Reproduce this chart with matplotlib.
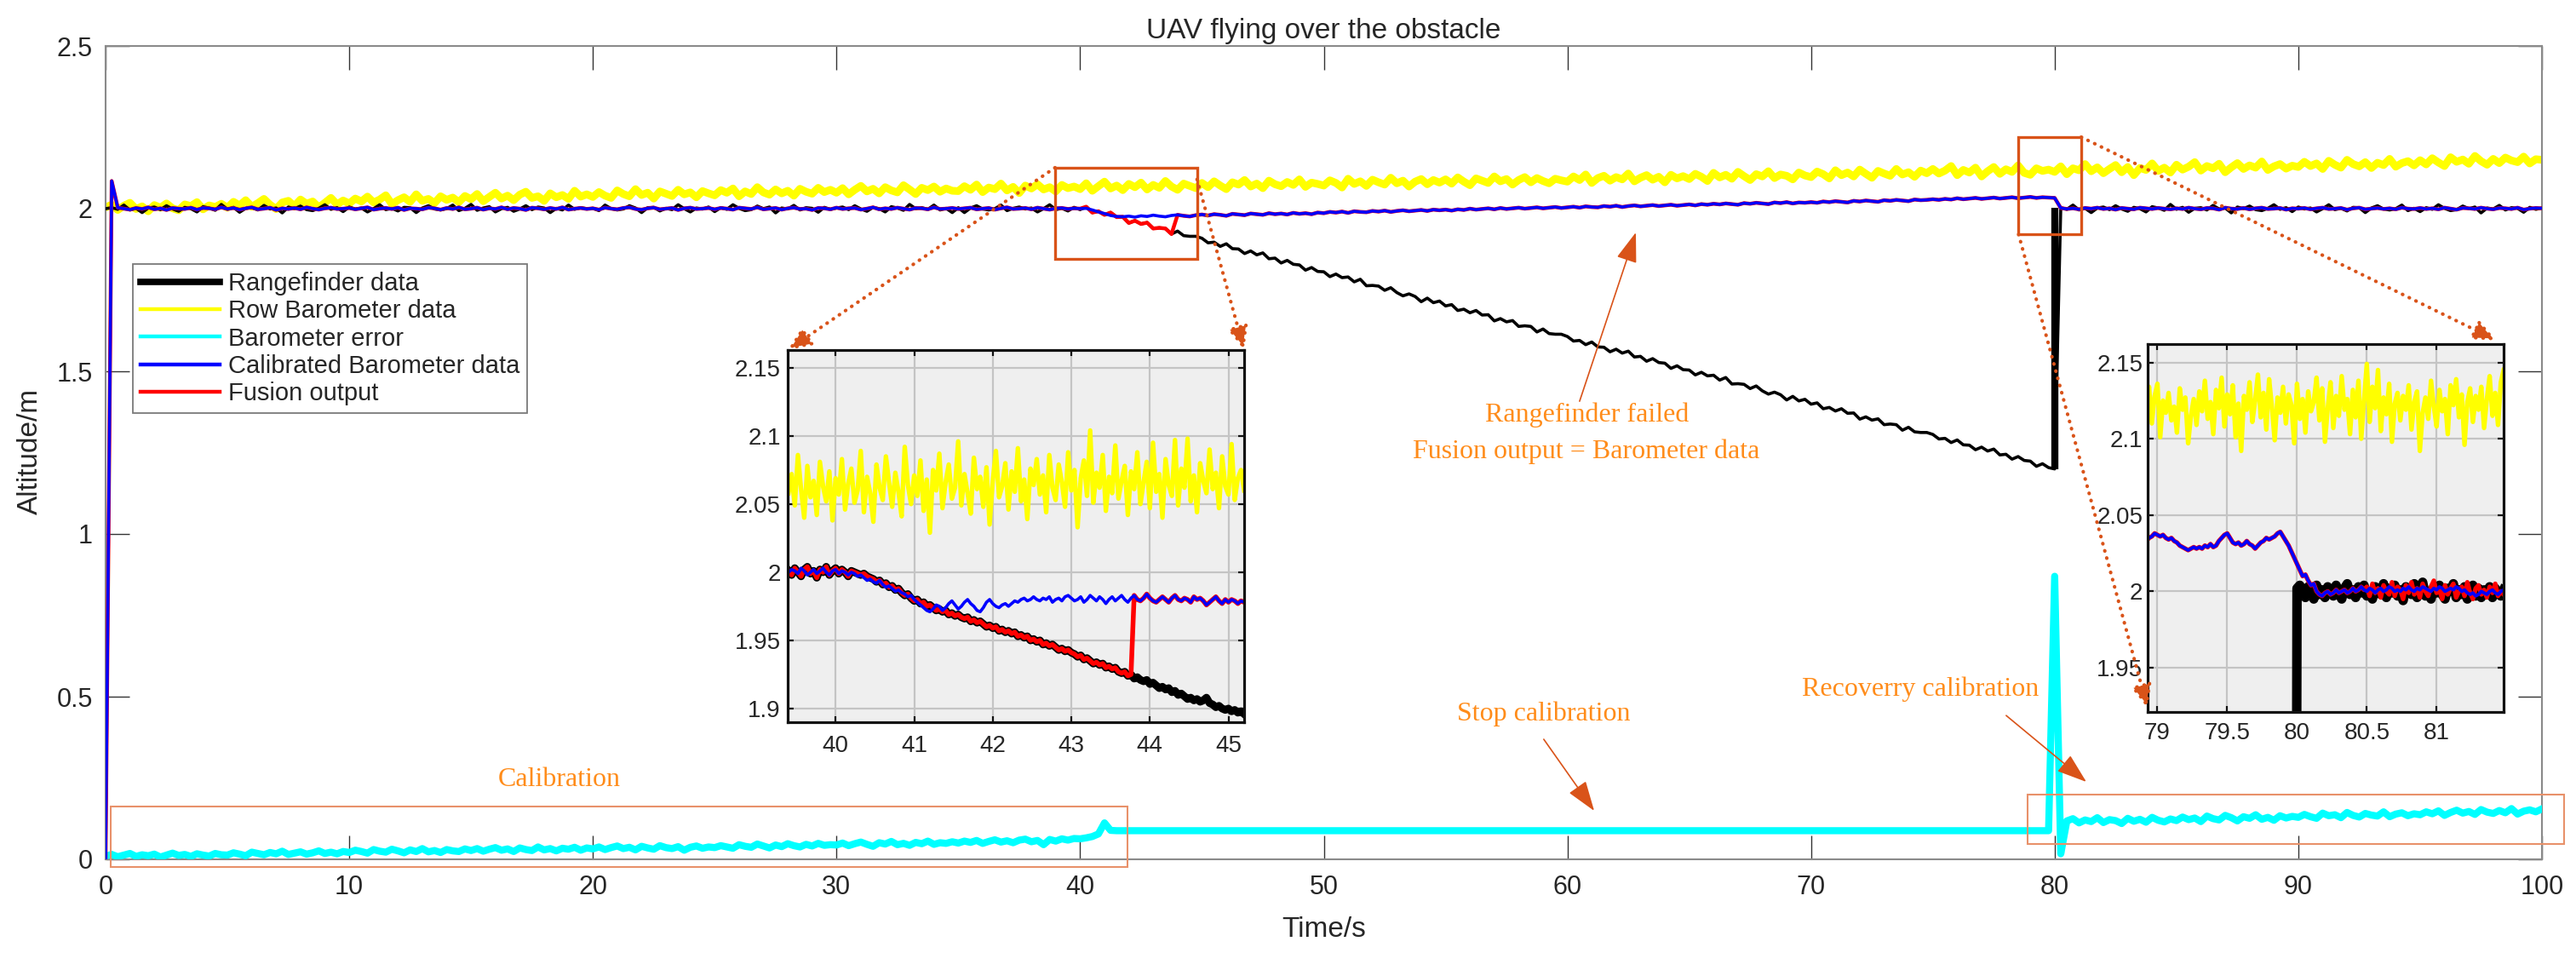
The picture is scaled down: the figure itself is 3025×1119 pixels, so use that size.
import numpy as np
import matplotlib.pyplot as plt
from matplotlib.patches import Rectangle, ConnectionPatch
from matplotlib.lines import Line2D

# ---------------- data (altitudes in mm) ----------------
# main view: one sample every 0.25 s from 0 s to 100 s
dt_main = 0.25

row_baro_mm = [
    2004, 2012, 1996, 2009, 2018, 1999, 2007, 1992, 2011, 2003, 2016, 2001, 1995, 2013, 2008, 2020, 1998, 2010, 2005, 2015,
    2003, 2021, 2010, 2026, 2006, 2017, 2030, 2012, 1999, 2019, 2024, 2008, 2028, 2015, 2022, 2004, 2018, 2033, 2013, 2025,
    2016, 2031, 2022, 2037, 2019, 2028, 2041, 2014, 2026, 2035, 2021, 2044, 2024, 2030, 2017, 2038, 2027, 2034, 2020, 2039,
    2029, 2045, 2023, 2036, 2049, 2031, 2040, 2026, 2043, 2052, 2033, 2038, 2024, 2047, 2035, 2042, 2030, 2055, 2037, 2044,
    2036, 2051, 2040, 2033, 2056, 2045, 2038, 2060, 2042, 2049, 2031, 2053, 2046, 2039, 2058, 2044, 2050, 2035, 2054, 2047,
    2041, 2057, 2049, 2062, 2038, 2053, 2045, 2066, 2050, 2043, 2059, 2047, 2055, 2040, 2061, 2052, 2046, 2064, 2051, 2058,
    2049, 2063, 2044, 2058, 2070, 2053, 2061, 2047, 2066, 2056, 2050, 2072, 2059, 2045, 2064, 2057, 2068, 2052, 2062, 2055,
    2054, 2069, 2058, 2074, 2051, 2065, 2060, 2077, 2056, 2067, 2048, 2071, 2062, 2075, 2059, 2066, 2053, 2073, 2063, 2068,
    2060, 2078, 2055, 2069, 2083, 2062, 2071, 2057, 2076, 2066, 2080, 2059, 2073, 2064, 2085, 2068, 2058, 2077, 2070, 2063,
    2079, 2066, 2084, 2071, 2060, 2081, 2074, 2088, 2068, 2077, 2063, 2086, 2075, 2069, 2082, 2073, 2090, 2067, 2080, 2076,
    2071, 2087, 2079, 2065, 2092, 2076, 2084, 2070, 2089, 2081, 2074, 2095, 2078, 2086, 2068, 2083, 2091, 2075, 2088, 2080,
    2090, 2077, 2096, 2083, 2072, 2093, 2086, 2079, 2099, 2084, 2091, 2074, 2088, 2097, 2081, 2094, 2085, 2078, 2092, 2087,
    2083, 2099, 2088, 2105, 2079, 2094, 2101, 2086, 2097, 2090, 2108, 2084, 2095, 2103, 2089, 2098, 2081, 2104, 2093, 2100,
    2091, 2107, 2098, 2085, 2110, 2096, 2104, 2092, 2113, 2100, 2088, 2106, 2099, 2115, 2094, 2105, 2101, 2090, 2111, 2102,
    2097, 2114, 2106, 2093, 2118, 2103, 2111, 2099, 2120, 2107, 2095, 2116, 2108, 2101, 2122, 2105, 2112, 2098, 2117, 2109,
    2122, 2108, 2117, 2131, 2103, 2119, 2111, 2126, 2099, 2115, 2128, 2107, 2121, 2113, 2133, 2110, 2104, 2124, 2116, 2120,
    2113, 2130, 2106, 2124, 2118, 2137, 2115, 2127, 2109, 2122, 2134, 2112, 2128, 2103, 2125, 2119, 2139, 2116, 2126, 2111,
    2135, 2120, 2129, 2143, 2117, 2131, 2124, 2138, 2112, 2127, 2140, 2122, 2133, 2126, 2145, 2119, 2130, 2137, 2123, 2132,
    2128, 2144, 2131, 2139, 2122, 2147, 2135, 2126, 2150, 2137, 2130, 2143, 2125, 2141, 2134, 2153, 2129, 2140, 2146, 2133,
    2149, 2136, 2155, 2142, 2131, 2158, 2144, 2151, 2138, 2162, 2146, 2135, 2153, 2140, 2157, 2148, 2143, 2160, 2139, 2152,
    2150]

rangefinder_mm = [
    2000, 2003, 1998, 2011, 1996, 2001, 1988, 2002, 2005, 1997, 2009, 1999, 1992, 2004, 2000, 1990, 2006, 2002, 1995, 2013,
    1998, 2004, 1989, 2001, 2003, 1996, 2010, 1999, 2002, 1987, 2005, 2000, 2008, 1997, 1994, 2001, 2012, 1998, 2003, 1991,
    2005, 1999, 2002, 1990, 2000, 2012, 1997, 2001, 1993, 2004, 2003, 1988, 2002, 2009, 1999, 1996, 2000, 2011, 1994, 2001,
    2013, 1995, 2002, 2006, 1990, 2000, 2004, 1992, 1999, 2009, 1997, 2005, 2002, 1988, 2001, 1996, 2011, 1998, 2003, 2000,
    2001, 1994, 2011, 2000, 1996, 1999, 2009, 2002, 1988, 2003, 2004, 1993, 2001, 1997, 2012, 2000, 1990, 2002, 1999, 2005,
    1991, 2003, 1998, 2012, 2001, 1994, 1997, 2008, 2000, 2005, 1987, 2002, 1999, 2010, 1996, 2003, 2001, 1989, 2004, 1998,
    2002, 2005, 1997, 2009, 1999, 1992, 2004, 2000, 1990, 2006, 2002, 1995, 2013, 2000, 2003, 1998, 2011, 1996, 2001, 1988,
    2003, 1988, 2002, 2009, 1999, 1996, 2000, 2011, 1994, 2001, 2005, 1999, 2002, 1990, 2000, 2012, 1997, 2001, 1993, 2004,
    1997, 2006, 1988, 1992, 1981, 1988, 1974, 1975, 1956, 1963, 1953, 1957, 1939, 1941, 1939, 1922, 1931, 1917, 1915, 1915,
    1909, 1895, 1897, 1884, 1892, 1877, 1876, 1862, 1870, 1858, 1864, 1846, 1848, 1833, 1841, 1829, 1827, 1811, 1819, 1807,
    1806, 1791, 1799, 1788, 1790, 1775, 1783, 1763, 1764, 1762, 1749, 1757, 1742, 1732, 1738, 1730, 1714, 1725, 1711, 1716,
    1701, 1705, 1687, 1691, 1680, 1687, 1673, 1674, 1655, 1662, 1652, 1656, 1638, 1640, 1638, 1621, 1630, 1616, 1614, 1614,
    1607, 1593, 1595, 1582, 1590, 1575, 1574, 1560, 1568, 1556, 1562, 1544, 1546, 1531, 1539, 1527, 1525, 1509, 1517, 1505,
    1504, 1489, 1497, 1486, 1488, 1473, 1481, 1461, 1462, 1460, 1447, 1455, 1440, 1430, 1436, 1428, 1412, 1423, 1409, 1414,
    1399, 1403, 1385, 1389, 1378, 1385, 1371, 1372, 1353, 1360, 1350, 1354, 1336, 1338, 1336, 1319, 1328, 1314, 1312, 1312,
    1306, 1292, 1294, 1281, 1289, 1274, 1273, 1259, 1267, 1255, 1261, 1243, 1245, 1230, 1238, 1226, 1224, 1208, 1216, 1204,
    1200, 2003, 1998, 2011, 1996, 2001, 1988, 2002, 2005, 1997, 2009, 1999, 1992, 2004, 2000, 1990, 2006, 2002, 1995, 2013,
    1998, 2004, 1989, 2001, 2003, 1996, 2010, 1999, 2002, 1987, 2005, 2000, 2008, 1997, 1994, 2001, 2012, 1998, 2003, 1991,
    2005, 1999, 2002, 1990, 2000, 2012, 1997, 2001, 1993, 2004, 2003, 1988, 2002, 2009, 1999, 1996, 2000, 2011, 1994, 2001,
    1991, 2003, 1998, 2012, 2001, 1994, 1997, 2008, 2000, 2005, 1987, 2002, 1999, 2010, 1996, 2003, 2001, 1989, 2004, 1998,
    2002]

calib_baro_mm = [
    0, 2085, 2003, 2000, 1997, 2002, 1999, 2004, 1998, 2001, 1996, 2002, 2000, 1999, 2003, 1997, 2002, 2001, 1998, 2004,
    1999, 2002, 1997, 2001, 2004, 1998, 2000, 2003, 1996, 2001, 1999, 2002, 1998, 2004, 2000, 1997, 2001, 2003, 1999, 2000,
    2002, 1998, 2001, 2004, 1997, 2000, 2002, 1999, 2003, 1996, 2001, 2000, 1998, 2003, 2001, 1997, 2002, 1999, 2004, 1998,
    2000, 2003, 1997, 2001, 1999, 2004, 1998, 2002, 2000, 1996, 2003, 2001, 1998, 2002, 1999, 2004, 1997, 2000, 2002, 1999,
    2001, 1997, 2003, 2000, 1998, 2002, 2004, 1999, 1997, 2001, 2003, 1998, 2000, 2002, 1996, 2001, 2003, 1999, 2000, 2002,
    1998, 2002, 2000, 1997, 2003, 2001, 1999, 2004, 1998, 2000, 2002, 1997, 2001, 2003, 1999, 2000, 1996, 2002, 2001, 1998,
    2003, 1999, 2001, 2002, 1997, 2000, 2004, 1998, 2001, 1999, 2003, 2000, 1997, 2002, 2001, 1998, 2004, 1999, 2000, 2002,
    1999, 2001, 2003, 1998, 2000, 2002, 1997, 2001, 2004, 1999, 2000, 2002, 1998, 2003, 2000, 1997, 2001, 2002, 1999, 2001,
    2000, 2001, 1996, 1990, 1985, 1979, 1976, 1975, 1977, 1974, 1978, 1976, 1980, 1977, 1975, 1979, 1981, 1978, 1976, 1980,
    1982, 1979, 1983, 1981, 1978, 1984, 1982, 1980, 1985, 1983, 1981, 1986, 1983, 1985, 1982, 1987, 1984, 1986, 1983, 1988,
    1986, 1990, 1988, 1991, 1987, 1992, 1990, 1989, 1993, 1991, 1994, 1990, 1993, 1995, 1992, 1994, 1996, 1993, 1997, 1995,
    1997, 1994, 1998, 1996, 2000, 1997, 1999, 2001, 1998, 2002, 1999, 2001, 2003, 2000, 2002, 2004, 2001, 2003, 2005, 2002,
    2004, 2006, 2003, 2007, 2005, 2004, 2008, 2006, 2009, 2005, 2008, 2010, 2007, 2009, 2011, 2008, 2010, 2012, 2009, 2011,
    2013, 2010, 2014, 2012, 2015, 2013, 2016, 2014, 2012, 2017, 2015, 2018, 2016, 2014, 2019, 2017, 2020, 2016, 2019, 2018,
    2020, 2018, 2022, 2020, 2023, 2021, 2019, 2024, 2022, 2025, 2023, 2021, 2026, 2024, 2027, 2025, 2023, 2028, 2026, 2027,
    2029, 2027, 2030, 2028, 2032, 2029, 2031, 2033, 2030, 2032, 2034, 2031, 2033, 2035, 2032, 2034, 2036, 2033, 2035, 2034,
    2033, 2002, 1999, 2001, 1998, 2002, 2000, 2003, 1999, 2001, 1997, 2002, 2000, 1998, 2003, 2001, 1999, 2002, 2000, 1998,
    2001, 1999, 2003, 2000, 1998, 2002, 2001, 1997, 2003, 2000, 1999, 2002, 1998, 2001, 2003, 1999, 2000, 2002, 1997, 2001,
    2000, 2002, 1998, 2001, 2003, 1999, 2000, 2002, 1997, 2001, 2003, 1998, 2000, 2002, 1999, 2001, 1998, 2003, 2000, 1999,
    2002, 1999, 2001, 1998, 2003, 2000, 1997, 2002, 2001, 1999, 2003, 2000, 1998, 2002, 2001, 1999, 2003, 1997, 2000, 2002,
    2001]

baro_error_mm = (
    [10, 15, 8, 13, 18, 9, 14, 11, 16, 7, 13, 19, 12, 15, 9, 17, 13, 10, 18, 14,
     13, 20, 16, 11, 22, 18, 14, 21, 17, 25, 15, 19, 23, 16, 20, 26, 18, 22, 17, 24,
     21, 28, 24, 19, 30, 25, 22, 31, 26, 20, 29, 24, 33, 23, 27, 21, 30, 26, 24, 32,
     27, 33, 25, 31, 36, 28, 32, 24, 35, 30, 27, 38, 29, 33, 26, 34, 31, 37, 28, 35,
     32, 38, 30, 36, 41, 33, 37, 29, 40, 35, 31, 42, 36, 33, 39, 28, 37, 41, 34, 38,
     36, 42, 38, 34, 45, 40, 37, 47, 41, 35, 44, 39, 48, 42, 38, 46, 41, 49, 43, 45,
     44, 50, 42, 48, 53, 46, 40, 51, 47, 55, 45, 49, 43, 52, 48, 56, 46, 51, 49, 54,
     50, 56, 52, 58, 49, 55, 60, 53, 57, 51, 59, 62, 54, 58, 45, 61, 56, 63, 59, 64,
     63, 66, 70, 78, 112, 89]
    + [88] * 154          # held constant while calibration is stopped (41-80 s)
    + [870, 17, 118, 125, 112, 121, 116, 128, 113, 122, 119, 110, 126, 117, 123, 114, 129, 120, 115, 124,
       119, 130, 122, 127, 116, 133, 125, 121, 135, 128, 118, 131, 126, 137, 123, 129, 120, 134, 127, 132,
       129, 138, 131, 126, 142, 134, 137, 128, 144, 135, 130, 141, 136, 133, 146, 131, 139, 143, 134, 140,
       137, 146, 140, 149, 135, 144, 151, 142, 147, 138, 153, 145, 141, 150, 143, 156, 139, 148, 152, 146,
       155])

# fusion output follows the rangefinder only while it is tracking the descent
fusion_rf_from = 40.25
fusion_rf_until = 43.76
jump_time = 80.0

# zoom 1: 39.4 s - 45.2 s, one sample every 0.04 s
z1_start, z1_dt = 39.4, 0.04
z1_row_baro = [
    2058, 2072, 2049, 2086, 2061, 2040, 2078, 2055, 2067, 2042, 2081, 2063, 2052, 2074, 2038, 2069, 2057, 2083, 2046, 2065,
    2076, 2051, 2060, 2089, 2044, 2070, 2058, 2037, 2079, 2062, 2053, 2085, 2066, 2048, 2073, 2059, 2041, 2092, 2064, 2050,
    2071, 2056, 2082, 2045, 2068, 2029, 2075, 2060, 2087, 2047, 2066, 2079, 2054, 2062, 2096, 2049, 2072, 2058, 2043, 2084,
    2061, 2070, 2048, 2077, 2035, 2067, 2089, 2055, 2063, 2080, 2046, 2074, 2059, 2091, 2052, 2068, 2039, 2076, 2064, 2083,
    2057, 2071, 2044, 2086, 2062, 2053, 2079, 2066, 2048, 2088, 2060, 2075, 2033, 2069, 2082, 2056, 2104, 2051, 2073, 2062,
    2086, 2045, 2070, 2058, 2093, 2054, 2067, 2078, 2042, 2074, 2061, 2088, 2050, 2066, 2081, 2047, 2095, 2059, 2072, 2040,
    2083, 2064, 2056, 2097, 2049, 2076, 2062, 2098, 2052, 2071, 2044, 2080, 2067, 2058, 2090, 2061, 2073, 2047, 2085, 2063,
    2057, 2094, 2053, 2069, 2075, 2060]
z1_rangefinder = [
    2001, 1998, 2003, 2000, 1997, 2002, 2004, 1999, 2001, 1996, 2002, 2000, 2004, 1998, 2001, 2003, 1999, 2002, 2000, 1997,
    2001, 2000, 1999, 1998, 1999, 1997, 1996, 1995, 1993, 1994, 1991, 1992, 1989, 1990, 1987, 1988, 1985, 1983, 1984, 1981,
    1979, 1980, 1977, 1978, 1975, 1976, 1974, 1972, 1973, 1971, 1972, 1969, 1970, 1968, 1969, 1967, 1966, 1967, 1964, 1965,
    1963, 1964, 1962, 1960, 1961, 1959, 1960, 1957, 1958, 1956, 1957, 1955, 1956, 1953, 1954, 1952, 1953, 1950, 1951, 1949,
    1950, 1947, 1948, 1946, 1947, 1945, 1943, 1944, 1942, 1943, 1941, 1940, 1938, 1939, 1936, 1937, 1935, 1933, 1934, 1932,
    1933, 1930, 1931, 1929, 1930, 1927, 1926, 1927, 1924, 1925, 1922, 1923, 1921, 1920, 1921, 1918, 1919, 1917, 1915, 1916,
    1914, 1915, 1912, 1913, 1910, 1911, 1909, 1907, 1908, 1906, 1907, 1905, 1906, 1908, 1904, 1903, 1901, 1902, 1900, 1899,
    1900, 1898, 1899, 1897, 1898, 1896]
z1_calib_baro = [
    2000, 2002, 2001, 1999, 2003, 2001, 1998, 2000, 2002, 1999, 2001, 2003, 2000, 1998, 2001, 2002, 1999, 2001, 2000, 1998,
    2000, 1999, 1997, 1998, 1996, 1994, 1995, 1993, 1992, 1994, 1991, 1989, 1990, 1988, 1986, 1987, 1985, 1984, 1982, 1983,
    1980, 1978, 1976, 1974, 1972, 1971, 1973, 1976, 1975, 1972, 1974, 1977, 1979, 1976, 1973, 1975, 1978, 1980, 1977, 1975,
    1972, 1971, 1974, 1978, 1980, 1977, 1975, 1974, 1976, 1977, 1975, 1977, 1979, 1978, 1980, 1981, 1979, 1980, 1982, 1980,
    1979, 1981, 1980, 1982, 1978, 1980, 1981, 1979, 1982, 1983, 1981, 1979, 1980, 1982, 1978, 1980, 1983, 1981, 1979, 1982,
    1980, 1977, 1980, 1982, 1979, 1981, 1983, 1980, 1978, 1981, 1983, 1980, 1979, 1981, 1984, 1981, 1979, 1978, 1980, 1982,
    1980, 1978, 1981, 1983, 1980, 1979, 1981, 1980, 1978, 1982, 1980, 1981, 1979, 1976, 1978, 1980, 1982, 1979, 1977, 1980,
    1978, 1980, 1979, 1977, 1979, 1978]

# zoom 2: 78.92 s - 81.48 s, one sample every 0.02 s
z2_start, z2_dt = 78.92, 0.02
z2_row_baro = [
    2122, 2134, 2110, 2128, 2136, 2101, 2125, 2117, 2130, 2112, 2121, 2104, 2133, 2119, 2127, 2097, 2115, 2126, 2109, 2131,
    2118, 2138, 2113, 2124, 2103, 2132, 2120, 2140, 2108, 2129, 2116, 2135, 2101, 2123, 2092, 2128, 2119, 2137, 2111, 2125,
    2142, 2114, 2130, 2106, 2139, 2121, 2099, 2127, 2117, 2134, 2110, 2129, 2122, 2097, 2136, 2113, 2126, 2104, 2131, 2118,
    2124, 2140, 2112, 2133, 2098, 2120, 2137, 2107, 2128, 2115, 2141, 2119, 2126, 2103, 2132, 2114, 2138, 2100, 2125, 2149,
    2111, 2134, 2120, 2145, 2105, 2127, 2116, 2136, 2098, 2123, 2130, 2112, 2128, 2119, 2135, 2106, 2124, 2131, 2092, 2117,
    2127, 2113, 2138, 2121, 2108, 2132, 2118, 2126, 2103, 2135, 2122, 2139, 2114, 2129, 2096, 2124, 2133, 2111, 2128, 2119,
    2134, 2107, 2126, 2141, 2115, 2130, 2109, 2137, 2145]
z2_calib_baro = [
    2033, 2035, 2036, 2038, 2037, 2036, 2037, 2035, 2034, 2035, 2033, 2032, 2030, 2029, 2028, 2027, 2028, 2029, 2028, 2029,
    2028, 2030, 2029, 2031, 2029, 2030, 2033, 2035, 2037, 2038, 2035, 2032, 2031, 2032, 2030, 2031, 2033, 2031, 2030, 2028,
    2030, 2032, 2033, 2035, 2034, 2035, 2036, 2038, 2039, 2036, 2033, 2030, 2026, 2022, 2018, 2014, 2010, 2011, 2007, 2004,
    2005, 2000, 1998, 1997, 1999, 2000, 1998, 1999, 2001, 1999, 2000, 2001, 1999, 2000, 2002, 2000, 2001, 2003, 2001, 2000,
    2002, 2001, 1999, 2001, 2002, 2000, 2001, 2003, 2002, 2000, 2001, 2000, 2002, 2001, 2003, 2001, 2000, 2002, 2001, 2003,
    2002, 2001, 2000, 2002, 2001, 2003, 2002, 2000, 2001, 2002, 2001, 2003, 2002, 2000, 2001, 1999, 1998, 1999, 1997, 1998,
    2000, 1999, 1998, 2000, 2001, 1999, 1998, 2000, 2001]
# rangefinder from 79.98 s on (before that it is far below the zoom window)
z2_rf_start = 79.98
z2_rangefinder = [
    1201,
    2002, 2004, 1999, 1996, 2003, 2000, 1995, 2004, 1998, 2001, 1996, 2003, 2000, 1997, 2004, 1999, 1995, 2002, 2005, 1998,
    2001, 1996, 2003, 1999, 2004, 1997, 2000, 1995, 2003, 2001, 1998, 2005, 1996, 2002, 1999, 2004, 1997, 2001, 1994, 2003,
    2000, 1998, 2005, 1996, 2002, 2006, 1997, 2000, 1995, 2003, 1999, 2004, 1998, 1995, 2002, 2000, 2005, 1996, 2001, 1998,
    2003, 1995, 2000, 2004, 1997, 2002, 1996, 2001, 1998, 2003, 1996, 2002, 1999, 1997, 2001]
# fusion output from 80.5 s on (before that it equals the calibrated barometer)
z2_fusion_start = 80.5
z2_fusion_tail = [
    2003, 1997, 2005, 1999, 2002, 1996, 2004, 2000, 1998, 2006, 1997, 2003, 2001, 1995, 2004, 1999, 2006, 1998, 2002, 1996,
    2005, 2000, 1997, 2003, 2007, 1999, 2001, 1995, 2004, 1998, 2002, 2005, 1996, 2000, 2003, 1997, 2006, 1999, 1995, 2002,
    2004, 1998, 2001, 1996, 2003, 1999, 2005, 1997, 2000, 1998]

labels = ["Rangefinder data", "Row Barometer data", "Barometer error",
          "Calibrated Barometer data", "Fusion output"]

# ---------------- arrays ----------------
def series(vals, start, step):
    y = np.array(vals, dtype=float) / 1000.0
    return start + step * np.arange(len(y)), y

t_yel, yel = series(row_baro_mm, 0.0, dt_main)
t_blk, blk = series(rangefinder_mm, 0.0, dt_main)
t_blu, blu = series(calib_baro_mm, 0.0, dt_main)
t_cyn, cyn = series(baro_error_mm, 0.0, dt_main)
n = min(len(blk), len(blu))
t_red = t_blk[:n]
red = np.where((t_red >= fusion_rf_from) & (t_red < fusion_rf_until), blk[:n], blu[:n])

t1y, y1y = series(z1_row_baro, z1_start, z1_dt)
t1k, y1k = series(z1_rangefinder, z1_start, z1_dt)
t1b, y1b = series(z1_calib_baro, z1_start, z1_dt)
n1 = min(len(y1k), len(y1b))
y1r = np.where(t1k[:n1] < fusion_rf_until + 0.01, y1k[:n1], y1b[:n1])

t2y, y2y = series(z2_row_baro, z2_start, z2_dt)
t2b, y2b = series(z2_calib_baro, z2_start, z2_dt)
t2k, y2k = series(z2_rangefinder, z2_rf_start, z2_dt)
t2f, y2f = series(z2_fusion_tail, z2_fusion_start, z2_dt)
keep = t2b < z2_fusion_start - 0.001
t2r = np.concatenate([t2b[keep], t2f])
y2r = np.concatenate([y2b[keep], y2f])

# ---------------- figure ----------------
W, H = 3025, 1119
fig = plt.figure(figsize=(W / 100, H / 100), dpi=100)
plt.rcParams['font.family'] = ['Liberation Sans', 'DejaVu Sans']

YEL, BLK, CYN, BLU, RED = '#FFFF00', '#000000', '#00FFFF', '#0000FF', '#FF0000'
TXT = '#262626'
ORANGE_TXT = '#FF8C1A'
ARROW = '#D95319'
BOX_LIGHT = '#E8916A'

def frac(x0, y0, x1, y1):
    return [x0 / W, 1 - y1 / H, (x1 - x0) / W, (y1 - y0) / H]

ax = fig.add_axes(frac(124, 54, 2985, 1009))
ax.plot(t_yel, yel, color=YEL, lw=6.5, zorder=2)
ax.plot(t_blk, blk, color=BLK, lw=2.6, zorder=3)
jump_i = np.searchsorted(t_blk, jump_time)
ax.vlines(jump_time, blk[jump_i], blk[jump_i + 1], color=BLK, lw=6, zorder=3)
ax.plot(t_red, red, color=RED, lw=3.2, zorder=4)
ax.plot(t_blu, blu, color=BLU, lw=2.6, zorder=5)
ax.plot(t_cyn, cyn, color=CYN, lw=6.0, zorder=3)

ax.set_xlim(0, 100)
ax.set_ylim(0, 2.5)
ax.set_xticks(np.arange(0, 101, 10))
ax.set_yticks([0, 0.5, 1, 1.5, 2, 2.5])
ax.set_yticklabels(['0', '0.5', '1', '1.5', '2', '2.5'])
ax.tick_params(direction='in', top=True, right=True, length=20, width=1.0,
               color='#333333', labelcolor=TXT, labelsize=22)
ax.tick_params(axis='x', pad=13)
ax.tick_params(axis='y', pad=11)
for s in ax.spines.values():
    s.set_color('#8a8a8a')
    s.set_linewidth(1.5)

fig.text((124 + 2985) / 2 / W, 1 - 45 / H, "UAV flying over the obstacle",
         ha='center', va='baseline', fontsize=24, color=TXT)
fig.text((124 + 2985) / 2 / W, 1 - 1100 / H, "Time/s",
         ha='center', va='baseline', fontsize=24, color=TXT)
fig.text(35 / W, 1 - 530 / H, "Altitude/m", rotation=90,
         ha='center', va='center', fontsize=24, color=TXT)

# legend
handles = [Line2D([], [], color=c, lw=w) for c, w in
           [(BLK, 5.5), (YEL, 3.2), (CYN, 3.2), (BLU, 3.2), (RED, 3.2)]]
leg = ax.legend(handles, labels, loc='upper left',
                bbox_to_anchor=((156 - 124) / 2861, (1009 - 310) / 955),
                borderaxespad=0, fontsize=21, handlelength=3.2, handletextpad=0.35,
                labelspacing=0.15, borderpad=0.3, fancybox=False, framealpha=1)
leg.get_frame().set_edgecolor('#7a7a7a')
leg.get_frame().set_linewidth(1.3)
for tx in leg.get_texts():
    tx.set_color(TXT)

# annotation boxes
ax.add_patch(Rectangle((0.2, -0.024), 41.75, 0.185, fill=False, ec=BOX_LIGHT,
                       lw=1.5, clip_on=False, zorder=6))
ax.add_patch(Rectangle((78.9, 0.047), 22.0, 0.153, fill=False, ec=BOX_LIGHT,
                       lw=1.5, clip_on=False, zorder=6))
zoom1_box = (38.97, 1.846, 44.8, 2.126)
zoom2_box = (78.52, 1.921, 81.09, 2.22)
for x0, y0, x1, y1 in (zoom1_box, zoom2_box):
    ax.add_patch(Rectangle((x0, y0), x1 - x0, y1 - y0, fill=False, ec=ARROW,
                           lw=2.4, clip_on=False, zorder=7))

serif = dict(family=['Liberation Serif', 'DejaVu Serif'], color=ORANGE_TXT, fontsize=23)
ax.text(18.63, 0.2435, "Calibration", ha='center', va='center', **serif)
ax.text(59.03, 0.4476, "Stop calibration", ha='center', va='center', **serif)
ax.text(74.48, 0.5223, "Recoverry calibration", ha='center', va='center', **serif)
ax.text(60.82, 1.365, "Rangefinder failed", ha='center', va='center', **serif)
ax.text(60.78, 1.254, "Fusion output = Barometer data", ha='center', va='center', **serif)

arrow_kw = dict(arrowstyle='-|>,head_length=1.1,head_width=0.38', color=ARROW,
                lw=1.2, mutation_scale=20, shrinkA=0, shrinkB=0)
for start, end in [((60.50, 1.408), (62.81, 1.927)),
                   ((59.03, 0.369), (61.10, 0.149)),
                   ((78.01, 0.442), (81.30, 0.238))]:
    ax.annotate('', xy=end, xytext=start, arrowprops=arrow_kw, zorder=8)

# insets
def style_inset(a, xlim, ylim, xt, xtl, yt, ytl, xpad, ypad):
    a.set_facecolor('#EFEFEF')
    a.set_xlim(*xlim)
    a.set_ylim(*ylim)
    a.set_xticks(xt)
    a.set_xticklabels(xtl)
    a.set_yticks(yt)
    a.set_yticklabels(ytl)
    a.grid(True, color='#C4C4C4', lw=1.6)
    a.set_axisbelow(True)
    a.tick_params(direction='in', top=True, right=True, length=5, width=1.6,
                  color='#111111', labelcolor=TXT, labelsize=20)
    a.tick_params(axis='x', pad=xpad)
    a.tick_params(axis='y', pad=ypad)
    for s in a.spines.values():
        s.set_color('#111111')
        s.set_linewidth(2.3)

ax1 = fig.add_axes(frac(925, 411, 1461, 848))
ax1.plot(t1y, y1y, color=YEL, lw=3.8)
ax1.plot(t1k, y1k, color=BLK, lw=6.5)
ax1.plot(t1k[:n1], y1r, color=RED, lw=4.0)
ax1.plot(t1b, y1b, color=BLU, lw=2.6)
style_inset(ax1, (39.39, 45.2), (1.89, 2.163), [40, 41, 42, 43, 44, 45],
            ['40', '41', '42', '43', '44', '45'],
            [1.9, 1.95, 2.0, 2.05, 2.1, 2.15],
            ['1.9', '1.95', '2', '2.05', '2.1', '2.15'], 10.5, 6)

ax2 = fig.add_axes(frac(2522, 404, 2940, 836))
ax2.plot(t2y, y2y, color=YEL, lw=3.8)
ax2.plot(t2k, y2k, color=BLK, lw=8.0)
ax2.plot(t2r, y2r, color=RED, lw=3.8)
ax2.plot(t2b, y2b, color=BLU, lw=2.8)
style_inset(ax2, (78.93, 81.48), (1.921, 2.162), [79, 79.5, 80, 80.5, 81],
            ['79', '79.5', '80', '80.5', '81'],
            [1.95, 2.0, 2.05, 2.1, 2.15],
            ['1.95', '2', '2.05', '2.1', '2.15'], 8.5, 4)

# dotted connectors from the zoom boxes to the insets
dot_kw = dict(arrowstyle='-|>,head_length=0.8,head_width=0.35', mutation_scale=20,
              color=ARROW, lw=3.0, linestyle=(0, (0.1, 2.0)), capstyle='round',
              shrinkA=0, shrinkB=0, zorder=9)
for xyA, axB, xyB in [((zoom1_box[0], zoom1_box[3]), ax1, (0, 1)),
                      ((zoom1_box[2], 2.09), ax1, (1, 1)),
                      ((zoom2_box[2], zoom2_box[3]), ax2, (0.98, 1.01)),
                      ((zoom2_box[0], zoom2_box[1]), ax2, (0.0, 0.01))]:
    fig.add_artist(ConnectionPatch(xyA=xyA, coordsA=ax.transData, xyB=xyB,
                                   coordsB=axB.transAxes, **dot_kw))

fig.savefig('out.png', dpi=100)
